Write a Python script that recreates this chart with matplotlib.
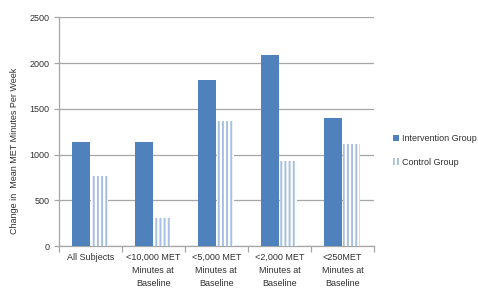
import matplotlib
matplotlib.use("Agg")
import matplotlib.pyplot as plt
import numpy as np

# values
categories = ["All Subjects", "<10,000 MET\nMinutes at\nBaseline", "<5,000 MET\nMinutes at\nBaseline",
              "<2,000 MET\nMinutes at\nBaseline", "<250MET\nMinutes at\nBaseline"]
intervention = [1140, 1140, 1815, 2085, 1400]
control = [765, 302, 1365, 930, 1118]

plt.rcParams['font.family'] = ['Liberation Sans', 'DejaVu Sans']
plt.rcParams['hatch.linewidth'] = 1.4

blue = '#4f81bd'
light = '#a7c0df'
grid = '#a6a6a6'
text = '#303030'
fs = 6.5

fig = plt.figure(figsize=(4.78, 2.93), dpi=100)
ax = fig.add_axes([0.1228, 0.1604, 0.6596, 0.7806])

x = np.arange(len(categories))
w = 0.28
ax.bar(x - w / 2 - 0.005, intervention, w, color=blue, label='Intervention Group', zorder=3)
ax.bar(x + w / 2 + 0.005, control, w, facecolor='white', edgecolor=light, hatch='||||',
       linewidth=0, label='Control Group', zorder=3)

ax.set_xlim(-0.5, len(categories) - 0.5)
ax.set_ylim(0, 2500)
ax.set_yticks(range(0, 2501, 500))
ax.yaxis.grid(True, color=grid, linewidth=0.9, zorder=0)

# category boundaries get the tick marks, labels sit in between
ax.set_xticks(np.arange(-0.5, len(categories)), minor=False)
ax.set_xticklabels([])
ax.set_xticks(x, minor=True)
ax.set_xticklabels(categories, minor=True, fontsize=fs, color=text, linespacing=1.55)
ax.tick_params(axis='x', which='minor', length=0, pad=5)
ax.tick_params(axis='x', which='major', length=4, color=grid, width=0.9)
ax.tick_params(axis='y', length=3.5, color=grid, width=0.9, labelsize=fs, labelcolor=text, pad=3)

for s in ['top', 'right']:
    ax.spines[s].set_visible(False)
for s in ['left', 'bottom']:
    ax.spines[s].set_color(grid)
    ax.spines[s].set_linewidth(0.9)

ax.set_ylabel('Change in  Mean MET Minutes Per Week', fontsize=fs, color=text)
ax.yaxis.set_label_coords(-0.125, 0.415)

fig.legend(loc='upper left', bbox_to_anchor=(0.805, 0.57), frameon=False, fontsize=fs,
           handlelength=0.7, handleheight=0.8, handletextpad=0.35, labelspacing=1.6,
           labelcolor=text)

fig.savefig('out.png', dpi=100)
